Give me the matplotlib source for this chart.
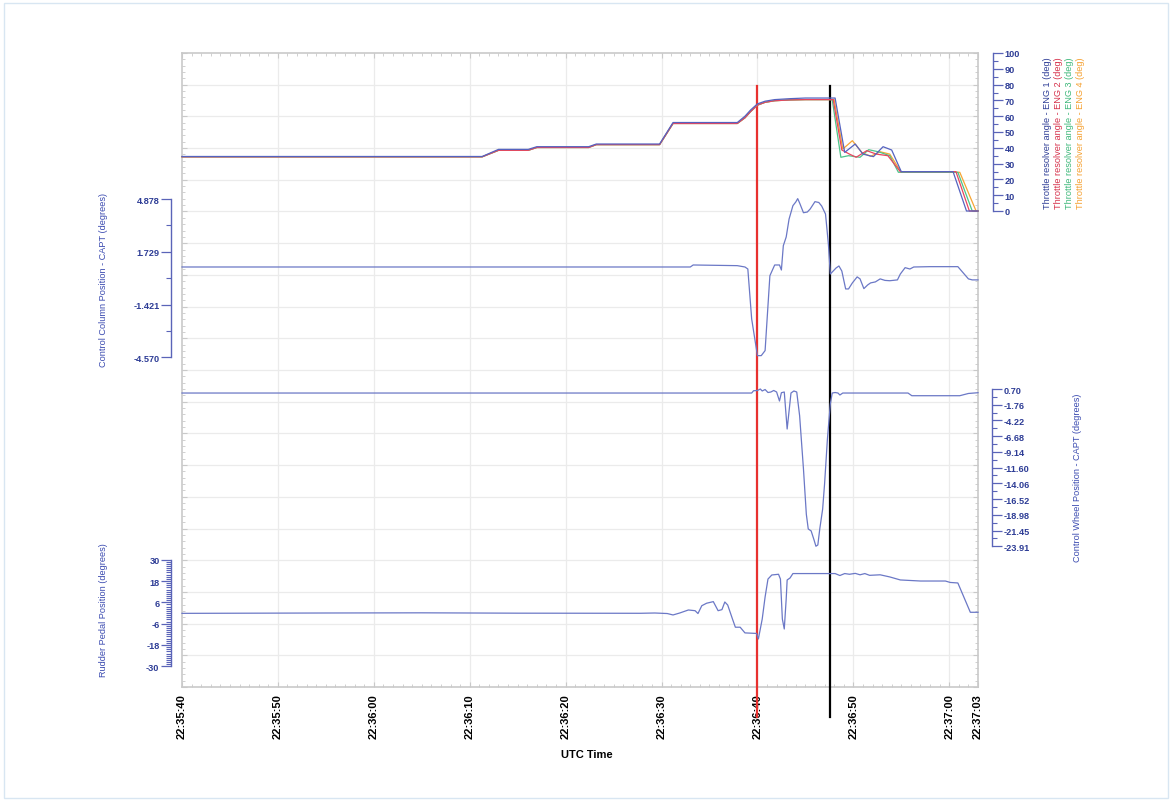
import matplotlib
matplotlib.use("Agg")
import matplotlib.pyplot as plt
from matplotlib.ticker import FixedLocator, MultipleLocator
from matplotlib.patches import Rectangle

plt.rcParams['font.family'] = ['Liberation Sans', 'DejaVu Sans']

# ---------------- data (seconds after 22:35:40) ----------------
x_tick_pos = [0, 10, 20, 30, 40, 50, 60, 70, 80, 83]
x_tick_labels = ["22:35:40", "22:35:50", "22:36:00", "22:36:10", "22:36:20",
                 "22:36:30", "22:36:40", "22:36:50", "22:37:00", "22:37:03"]

# Throttle resolver angles (deg)
thr_pre_t = [0, 31.3, 33.0, 36.1, 37.0, 42.4, 43.2, 49.8, 51.2, 57.9, 58.7, 59.3,
             60.0, 60.8, 61.8, 63.4, 65.0]
thr1_pre_v = [34.5, 34.5, 39.0, 39.0, 40.7, 40.7, 42.4, 42.4, 56.0, 56.0, 60.0, 64.0,
              67.8, 69.5, 70.5, 71.1, 71.5]
thr_oth_pre_v = [34.3, 34.3, 38.4, 38.4, 40.2, 40.2, 42.0, 42.0, 55.4, 55.4, 59.0, 63.0,
                 67.0, 68.8, 69.8, 70.3, 70.5]

thr1_post_t = [68.1, 69.1, 70.2, 71.0, 72.1, 73.1, 74.0, 75.0, 80.4, 81.8, 83.0]
thr1_post_v = [71.5, 37.1, 42.4, 36.0, 34.4, 40.7, 38.6, 24.9, 24.9, 0.0, 0.0]
thr2_post_t = [67.9, 68.8, 69.6, 70.3, 71.4, 72.4, 73.6, 74.9, 80.7, 82.1, 83.0]
thr2_post_v = [70.5, 38.6, 36.0, 34.0, 38.2, 36.0, 35.0, 24.9, 24.9, 0.0, 0.0]
thr3_post_t = [67.8, 68.7, 69.5, 70.7, 71.6, 72.6, 73.8, 74.7, 80.9, 82.4, 83.0]
thr3_post_v = [70.5, 34.0, 35.0, 34.0, 38.8, 37.5, 35.0, 24.5, 24.5, 0.0, 0.0]
thr4_post_t = [68.0, 68.9, 69.9, 70.9, 71.8, 72.8, 73.8, 75.0, 81.1, 82.8, 83.0]
thr4_post_v = [70.5, 39.2, 44.5, 37.0, 34.6, 37.5, 36.0, 24.5, 24.5, 0.0, 0.0]

# Control column position (deg)
col_t = [0, 53.0, 53.3, 57.9, 58.7, 59.0, 59.4, 60.0, 60.4, 60.8, 61.3, 61.8, 62.3,
         62.5, 62.7, 63.0, 63.3, 63.7, 64.0, 64.2, 64.4, 64.8, 65.2, 65.5, 66.0, 66.4,
         66.7, 67.1, 67.4, 67.6, 67.9, 68.2, 68.5, 68.8, 69.2, 69.5, 69.9, 70.4, 70.7,
         71.1, 71.5, 71.8, 72.3, 72.8, 73.3, 73.8, 74.6, 74.9, 75.4, 75.9, 76.3, 78.0,
         80.9, 82.0, 82.4, 83.0]
col_v = [0.82, 0.82, 0.94, 0.90, 0.82, 0.70, -2.28, -4.47, -4.47, -4.17, 0.30, 0.94,
         0.94, 0.64, 2.09, 2.61, 3.68, 4.48, 4.70, 4.90, 4.64, 4.06, 4.10, 4.28, 4.72,
         4.67, 4.46, 3.98, 2.19, 0.40, 0.58, 0.76, 0.88, 0.58, -0.49, -0.49, -0.13,
         0.23, 0.11, -0.47, -0.25, -0.13, -0.07, 0.11, 0.02, 0.00, 0.05, 0.40, 0.78,
         0.70, 0.82, 0.84, 0.84, 0.11, 0.05, 0.05]

# Control wheel position (deg)
whl_t = [0, 59.4, 59.6, 60.0, 60.3, 60.5, 60.8, 61.1, 61.4, 61.7, 62.0, 62.3, 62.5,
         62.8, 63.1, 63.5, 63.8, 64.1, 64.4, 64.8, 65.1, 65.3, 65.6, 65.9, 66.1, 66.3,
         66.5, 66.8, 67.0, 67.3, 67.6, 67.8, 68.1, 68.4, 68.6, 68.9, 75.7, 76.1, 81.1,
         82.0, 83.0]
whl_v = [0.07, 0.07, 0.43, 0.46, 0.70, 0.39, 0.62, 0.15, 0.23, 0.47, 0.23, -1.18, 0.12,
         0.23, -5.56, 0.07, 0.39, 0.23, -3.48, -11.8, -18.9, -21.2, -21.5, -22.9, -23.9,
         -23.7, -21.2, -18.1, -14.2, -7.1, -1.65, 0.07, 0.15, 0.07, -0.24, 0.07, 0.07,
         -0.35, -0.35, 0.0, 0.12]

# Rudder pedal position (deg)
rud_t = [0, 15.0, 25.0, 35.0, 47.8, 49.3, 50.6, 51.2, 51.9, 52.8, 53.5, 53.8, 54.2,
         54.7, 55.4, 55.9, 56.3, 56.6, 56.9, 57.4, 57.7, 58.2, 58.7, 59.9, 60.1, 60.5,
         60.8, 61.1, 61.5, 62.2, 62.4, 62.6, 62.8, 63.0, 63.1, 63.4, 63.7, 67.6, 68.1,
         68.6, 69.1, 69.6, 70.2, 70.7, 71.2, 71.7, 72.8, 73.8, 74.9, 77.0, 79.6, 80.1,
         80.9, 82.2, 83.0]
rud_v = [-0.2, 0.0, 0.1, -0.1, -0.16, 0.0, -0.3, -1.1, 0.0, 1.7, 1.3, -0.3, 4.1, 5.5,
         6.4, 1.3, 1.9, 6.2, 4.5, -3.4, -8.0, -8.0, -11.2, -11.5, -14.6, -3.4, 9.0,
         19.1, 21.4, 21.8, 19.1, -3.4, -9.0, 7.9, 18.6, 19.7, 22.2, 22.2, 22.2, 21.1,
         22.2, 21.8, 22.3, 21.5, 22.2, 21.2, 21.5, 20.3, 18.6, 18.0, 18.0, 17.2, 16.9,
         0.4, 0.4]

red_marker_t = 60.0
black_marker_t = 67.6

col_ticks = [4.878, 1.729, -1.421, -4.570]
whl_ticks = [0.70, -1.76, -4.22, -6.68, -9.14, -11.60, -14.06, -16.52, -18.98, -21.45, -23.91]
rud_ticks = [30, 18, 6, -6, -18, -30]
thr_ticks = list(range(0, 101, 10))

# ---------------- layout helpers ----------------
W, H = 1172, 803
fig = plt.figure(figsize=(W / 100, H / 100), dpi=100)
X0, X1 = 182, 978
XMAX = 83.0


def fig_rect(ytop, ybot):
    return [X0 / W, 1 - ybot / H, (X1 - X0) / W, (ybot - ytop) / H]


def px2pt(p):
    return p * 72 / 100


frame_c = "#c9c9c9"
grid_c = "#ebebeb"
line_c = "#6b78c6"
spine_c = "#5a64b8"
lab_c = "#2e3d96"

fig.patches.append(Rectangle((4 / W, 4 / H), (W - 8) / W, (H - 8) / H,
                             transform=fig.transFigure, fill=False,
                             edgecolor="#d8e6f2", linewidth=1))

# main frame
ax = fig.add_axes(fig_rect(54, 688))
ax.set_xlim(0, XMAX)
ax.set_ylim(0, 20)
for s in ax.spines.values():
    s.set_color(frame_c)
    s.set_linewidth(1.2)
ax.xaxis.set_major_locator(FixedLocator(x_tick_pos))
ax.set_xticklabels(x_tick_labels, rotation=90, fontsize=8, fontweight="bold",
                   color="black", va="top", ha="center")
ax.xaxis.set_minor_locator(MultipleLocator(1))
ax.yaxis.set_major_locator(MultipleLocator(1))
ax.yaxis.set_minor_locator(MultipleLocator(0.2))
ax.set_yticklabels([])
ax.tick_params(axis="both", which="both", direction="in", colors=frame_c,
               top=True, right=True)
ax.tick_params(axis="x", which="major", length=px2pt(5), labelcolor="black",
               pad=px2pt(6))
ax.tick_params(axis="both", which="minor", length=px2pt(3))
ax.tick_params(axis="y", which="major", length=px2pt(5))
for gx in range(10, 81, 10):
    ax.axvline(gx, color=grid_c, linewidth=0.9, zorder=0)
for gy in range(1, 20):
    ax.axhline(gy, color=grid_c, linewidth=0.9, zorder=0)


def sub_axes(ytop, ybot, ylim, side, spine_px):
    a = fig.add_axes(fig_rect(ytop, ybot))
    a.patch.set_alpha(0)
    a.set_xlim(0, XMAX)
    a.set_ylim(*ylim)
    for k, s in a.spines.items():
        s.set_visible(False)
    a.spines[side].set_visible(True)
    a.spines[side].set_position(("axes", (spine_px - X0) / (X1 - X0)))
    a.spines[side].set_color(spine_c)
    a.spines[side].set_linewidth(1.0)
    a.xaxis.set_visible(False)
    if side == "right":
        a.yaxis.tick_right()
    else:
        a.yaxis.tick_left()
    a.tick_params(axis="y", which="major", length=px2pt(10), width=0.9,
                  color=spine_c, labelcolor=lab_c, labelsize=6.6, pad=px2pt(1.5))
    a.tick_params(axis="y", which="minor", length=px2pt(5), width=0.8, color=spine_c)
    for t in a.get_yticklabels():
        t.set_fontweight("bold")
    return a


# Throttle
ax_thr = sub_axes(54, 212, (0, 100), "right", 993)
ax_thr.yaxis.set_major_locator(FixedLocator(thr_ticks))
ax_thr.yaxis.set_minor_locator(MultipleLocator(5))
ax_thr.set_yticklabels([str(v) for v in thr_ticks], fontweight="bold")
thr_cols = ["#f6a533", "#4cc48a", "#e8455f", "#5563c0"]
series = [
    (thr_pre_t + thr4_post_t, thr_oth_pre_v + thr4_post_v),
    (thr_pre_t + thr3_post_t, thr_oth_pre_v + thr3_post_v),
    (thr_pre_t + thr2_post_t, thr_oth_pre_v + thr2_post_v),
    (thr_pre_t + thr1_post_t, thr1_pre_v + thr1_post_v),
]
for (tt, vv), c in zip(series, thr_cols):
    ax_thr.plot(tt, vv, color=c, linewidth=0.9, clip_on=False)

# Column
ax_col = sub_axes(200, 358.3, (-4.570, 4.878), "left", 171)
ax_col.yaxis.set_major_locator(FixedLocator(col_ticks))
ax_col.yaxis.set_minor_locator(FixedLocator(
    [(col_ticks[i] + col_ticks[i + 1]) / 2 for i in range(3)]))
ax_col.set_yticklabels(["4.878", "1.729", "-1.421", "-4.570"], fontweight="bold")
ax_col.plot(col_t, col_v, color=line_c, linewidth=0.9, clip_on=False)

# Wheel
ax_whl = sub_axes(390, 547.3, (-23.91, 0.70), "right", 991.7)
ax_whl.yaxis.set_major_locator(FixedLocator(whl_ticks))
ax_whl.yaxis.set_minor_locator(FixedLocator(
    [(whl_ticks[i] + whl_ticks[i + 1]) / 2 for i in range(10)]))
ax_whl.set_yticklabels(["%.2f" % v for v in whl_ticks], fontweight="bold")
ax_whl.plot(whl_t, whl_v, color=line_c, linewidth=0.9, clip_on=False)

# Rudder
ax_rud = sub_axes(560.7, 667.3, (-30, 30), "left", 171)
ax_rud.yaxis.set_major_locator(FixedLocator(rud_ticks))
ax_rud.yaxis.set_minor_locator(MultipleLocator(1.2))
ax_rud.set_yticklabels([str(v) for v in rud_ticks], fontweight="bold")
ax_rud.plot(rud_t, rud_v, color=line_c, linewidth=0.9, clip_on=False)

# marker lines
ymin = (688 - 718) / (688 - 54)
ymax = (688 - 87) / (688 - 54)
ax.axvline(red_marker_t, ymin=ymin, ymax=ymax, color="#e8312f", linewidth=1.6,
           clip_on=False, zorder=5)
ax.axvline(black_marker_t, ymin=ymin, ymax=ymax, color="black", linewidth=1.6,
           clip_on=False, zorder=5)
for a in (ax_thr, ax_col, ax_whl, ax_rud):
    a.set_zorder(3)

# labels
def ftext(xp, yp, s, **kw):
    fig.text(xp / W, 1 - yp / H, s, **kw)


ftext(103, 280, "Control Column Position - CAPT (degrees)", rotation=90,
      ha="center", va="center", fontsize=6.6, color="#3a4ab0")
ftext(104, 610, "Rudder Pedal Position (degrees)", rotation=90,
      ha="center", va="center", fontsize=6.6, color="#3a4ab0")
ftext(1077, 478, "Control Wheel Position - CAPT (degrees)", rotation=90,
      ha="center", va="center", fontsize=6.6, color="#3a4ab0")
thr_lab_cols = ["#2e3d96", "#d6304a", "#3db87a", "#f5a030"]
for i, (xx, c) in enumerate(zip([1047.5, 1058.5, 1069.5, 1080.5], thr_lab_cols)):
    ftext(xx, 133, "Throttle resolver angle - ENG %d (deg)" % (i + 1), rotation=90,
          ha="center", va="center", fontsize=6.6, color=c)
ftext(587, 755, "UTC Time", ha="center", va="center", fontsize=8,
      fontweight="bold", color="black")

fig.savefig("out.png", dpi=100)
